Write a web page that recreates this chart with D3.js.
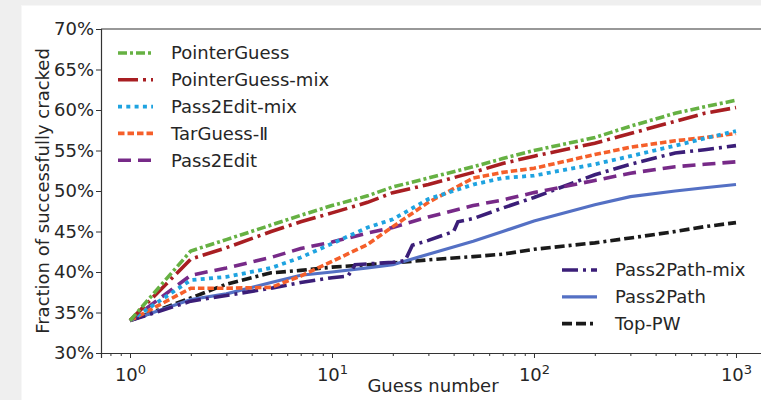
<!DOCTYPE html>
<html>
<head>
<meta charset="utf-8">
<script src="https://cdn.jsdelivr.net/npm/d3@7"></script>
<style>
  html, body { margin: 0; padding: 0; background: #efefef; }
  svg { display: block; font-family: "DejaVu Sans", sans-serif; }
</style>
</head>
<body>
<div id="chart"></div>
<script>
// guess numbers where each curve was read off
var guesses = [1, 2, 3, 5, 7, 10, 15, 20, 30, 50, 70, 100, 200, 300, 500, 700, 1000];

var pointerGuess    = [34, 42.6, 44.0, 45.8, 47.0, 48.2, 49.4, 50.5, 51.6, 53.0, 54.0, 55.0, 56.6, 58.0, 59.6, 60.4, 61.2];
var pointerGuessMix = [34, 41.6, 43.0, 45.0, 46.2, 47.3, 48.6, 49.8, 50.8, 52.3, 53.4, 54.3, 55.9, 57.1, 58.6, 59.6, 60.3];
var pass2EditMix    = [34, 39.0, 39.4, 40.5, 41.8, 43.5, 45.5, 46.5, 49.0, 50.8, 51.6, 51.9, 53.3, 54.3, 55.6, 56.5, 57.4];
var tarGuess        = [34, 38.0, 38.0, 38.1, 39.5, 41.3, 43.4, 45.6, 48.6, 51.6, 52.3, 52.8, 54.5, 55.4, 56.2, 56.6, 57.1];
var pass2Edit       = [34, 39.6, 40.5, 41.8, 42.9, 43.7, 44.8, 45.5, 46.8, 48.2, 48.9, 49.8, 51.3, 52.2, 53.0, 53.3, 53.6];
var pass2Path       = [34, 36.6, 37.3, 38.7, 39.6, 40.0, 40.5, 40.9, 42.2, 43.8, 45.0, 46.3, 48.3, 49.3, 50.0, 50.4, 50.8];
var topPW           = [34, 36.8, 38.5, 39.9, 40.2, 40.6, 40.9, 41.1, 41.5, 41.9, 42.2, 42.8, 43.6, 44.2, 45.0, 45.6, 46.1];

// Pass2Path-mix has jumps, so it has its own guess points
var mixGuesses   = [1, 2, 3, 5, 7, 10, 12, 13, 20, 23, 25, 30, 40, 42, 50, 70, 100, 200, 300, 500, 700, 1000];
var pass2PathMix = [34, 36.4, 37.1, 38.0, 38.7, 39.3, 39.5, 40.9, 41.2, 41.4, 43.3, 43.9, 45.0, 46.2, 46.6, 47.9, 49.2, 52.0, 53.3, 54.7, 55.1, 55.6];

var yTicks = [0.30, 0.35, 0.40, 0.45, 0.50, 0.55, 0.60, 0.65, 0.70];
var xMajor = [1, 10, 100, 1000];

var W = 761, H = 400;
var m = {left: 101, right: 765, top: 29, bottom: 353};
var fs = "18px";

var svg = d3.select("#chart").append("svg")
    .attr("width", W)
    .attr("height", H);

// page background + white figure
svg.append("rect").attr("width", W).attr("height", H).attr("fill", "#efefef");
svg.append("rect").attr("x", 21).attr("y", 5).attr("width", W).attr("height", H).attr("fill", "#f7f7f7");
svg.append("rect").attr("x", 22).attr("y", 6).attr("width", W).attr("height", H).attr("fill", "#ffffff");

var x = d3.scaleLog()
    .domain([Math.pow(10, -0.1436), Math.pow(10, 3.1436)])
    .range([m.left, m.right]);
var y = d3.scaleLinear()
    .domain([0.30, 0.70])
    .range([m.bottom, m.top]);

function mk(xs, ys) {
    return xs.map(function(g, i) { return {g: g, v: ys[i] / 100}; });
}

var series = [
    {name: "PointerGuess",     data: mk(guesses, pointerGuess),    color: "#66b143", dash: "9,3,3,3",     w: 3.6},
    {name: "PointerGuess-mix", data: mk(guesses, pointerGuessMix), color: "#a81e22", dash: "20,5,3,5",    w: 3.6},
    {name: "Pass2Edit-mix",    data: mk(guesses, pass2EditMix),    color: "#1fa3e0", dash: "4,4.3",       w: 3.8},
    {name: "TarGuess-\u2161",  data: mk(guesses, tarGuess),        color: "#f55f2a", dash: "6.5,3",       w: 3.6},
    {name: "Pass2Edit",        data: mk(guesses, pass2Edit),       color: "#772a88", dash: "13,7",        w: 3.6},
    {name: "Pass2Path-mix",    data: mk(mixGuesses, pass2PathMix), color: "#3b1e78", dash: "16,5,3,5",    w: 3.6},
    {name: "Pass2Path",        data: mk(guesses, pass2Path),       color: "#5470c4", dash: null,          w: 3.2},
    {name: "Top-PW",           data: mk(guesses, topPW),           color: "#1a1a1a", dash: "10,4,10,4,3,4", w: 3.6}
];

var line = d3.line()
    .x(function(d) { return x(d.g); })
    .y(function(d) { return y(d.v); });

svg.append("clipPath").attr("id", "plot")
  .append("rect").attr("x", m.left).attr("y", m.top).attr("width", m.right - m.left).attr("height", m.bottom - m.top);

// draw back to front so the top legend entries sit on top
svg.append("g")
    .attr("clip-path", "url(#plot)")
  .selectAll("path")
    .data(series.slice().reverse())
    .enter().append("path")
    .attr("d", function(d) { return line(d.data); })
    .attr("fill", "none")
    .attr("stroke", function(d) { return d.color; })
    .attr("stroke-width", function(d) { return d.w; })
    .attr("stroke-dasharray", function(d) { return d.dash; });

// axes
var axisColor = "#333";
svg.append("g")
    .attr("transform", "translate(" + m.left + ",0)")
    .call(d3.axisLeft(y).tickValues(yTicks).tickFormat(d3.format(".0%")).tickSize(5).tickPadding(2));

var xMinor = [];
[0.1, 1, 10, 100, 1000].forEach(function(b) {
    for (var k = 2; k <= 9; k++) {
        var v = b * k;
        if (x(v) > m.left && x(v) < W) xMinor.push(v);
    }
});
svg.append("g")
    .attr("transform", "translate(0," + m.bottom + ")")
    .call(d3.axisBottom(x).tickValues(xMinor).tickFormat("").tickSize(3))
    .call(function(g) { g.select(".domain").remove(); });

var xAxis = svg.append("g")
    .attr("transform", "translate(0," + m.bottom + ")")
    .call(d3.axisBottom(x).tickValues(xMajor).tickSize(5).tickPadding(5).tickFormat(""));

xAxis.selectAll(".tick text")
    .each(function(d) {
        var t = d3.select(this);
        t.append("tspan").text("10");
        t.append("tspan").attr("dy", "-0.55em").attr("font-size", "13px").text(Math.round(Math.log10(d)));
    })
    .attr("dy", "1.0em");

svg.selectAll(".domain").attr("stroke", axisColor).attr("stroke-width", 1.2);
svg.selectAll(".tick line").attr("stroke", axisColor).attr("stroke-width", 1);
svg.selectAll(".tick text").attr("fill", "#262626").attr("font-size", fs)
    .attr("font-family", "DejaVu Sans, sans-serif");

// top and right spines
svg.append("line").attr("x1", m.left).attr("x2", m.right).attr("y1", m.top).attr("y2", m.top)
    .attr("stroke", axisColor).attr("stroke-width", 1.2);
svg.append("line").attr("x1", m.right).attr("x2", m.right).attr("y1", m.top).attr("y2", m.bottom)
    .attr("stroke", axisColor).attr("stroke-width", 1.2);

// axis titles
svg.append("text")
    .attr("x", (m.left + m.right) / 2)
    .attr("y", 392)
    .attr("text-anchor", "middle")
    .attr("font-size", fs)
    .attr("fill", "#262626")
    .text("Guess number");

svg.append("text")
    .attr("transform", "translate(49," + ((m.top + m.bottom) / 2) + ") rotate(-90)")
    .attr("text-anchor", "middle")
    .attr("font-size", fs)
    .attr("fill", "#262626")
    .text("Fraction of successfully cracked");

// legends
function legend(items, x0, y0) {
    var g = svg.append("g").attr("transform", "translate(" + x0 + "," + y0 + ")");
    var row = g.selectAll("g").data(items).enter().append("g")
        .attr("transform", function(d, i) { return "translate(0," + (i * 26.8) + ")"; });
    row.append("line")
        .attr("x1", 0).attr("x2", 35).attr("y1", 0).attr("y2", 0)
        .attr("stroke", function(d) { return d.color; })
        .attr("stroke-width", function(d) { return d.w; })
        .attr("stroke-dasharray", function(d) { return d.dash; });
    row.append("text")
        .attr("x", 53).attr("y", 0).attr("dy", "0.35em")
        .attr("font-size", fs)
        .attr("fill", "#262626")
        .text(function(d) { return d.name; });
}
legend(series.slice(0, 5), 118, 53);
legend(series.slice(5), 562, 270);
</script>
</body>
</html>
